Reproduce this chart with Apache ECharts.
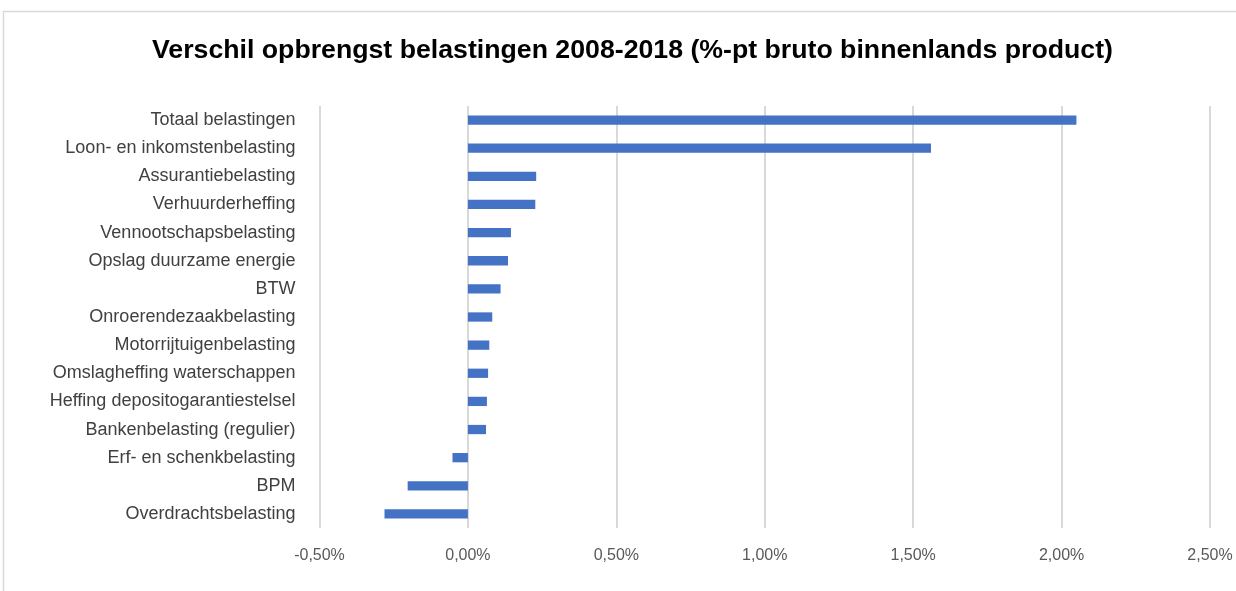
<!DOCTYPE html>
<html>
<head>
<meta charset="utf-8">
<script src="https://cdn.jsdelivr.net/npm/echarts@6/dist/echarts.min.js"></script>
<style>
html,body{margin:0;padding:0;background:#fff;}
#chart{width:1236px;height:591px;}
</style>
</head>
<body>
<div id="chart"></div>
<script>
const titleText = "Verschil opbrengst belastingen 2008-2018 (%-pt bruto binnenlands product)";
const categories = [
  "Totaal belastingen",
  "Loon- en inkomstenbelasting",
  "Assurantiebelasting",
  "Verhuurderheffing",
  "Vennootschapsbelasting",
  "Opslag duurzame energie",
  "BTW",
  "Onroerendezaakbelasting",
  "Motorrijtuigenbelasting",
  "Omslagheffing waterschappen",
  "Heffing depositogarantiestelsel",
  "Bankenbelasting (regulier)",
  "Erf- en schenkbelasting",
  "BPM",
  "Overdrachtsbelasting"
];
// values in percentage points of GDP
const values = [2.05, 1.56, 0.23, 0.227, 0.145, 0.135, 0.11, 0.082, 0.072, 0.068, 0.064, 0.061, -0.052, -0.203, -0.281];
const axisMin = -0.5, axisMax = 2.5, axisStep = 0.5;

const chart = echarts.init(document.getElementById('chart'), null, {renderer:'canvas'});
chart.setOption({
  animation:false,
  backgroundColor:'#ffffff',
  graphic:[{
    type:'rect',
    shape:{x:3.5,y:11.5,width:2000,height:2000},
    style:{fill:'none',stroke:'#d9d9d9',lineWidth:1.5},
    silent:true
  }],
  title:{
    text:titleText,
    left:147,
    top:32,
    textStyle:{fontFamily:'"Liberation Sans",sans-serif',fontWeight:'bold',fontSize:26.7,color:'#000'}
  },
  grid:{left:319.5,right:26,top:106,bottom:63,containLabel:false},
  xAxis:{
    type:'value',
    min:axisMin,max:axisMax,interval:axisStep,
    axisLine:{show:false},
    axisTick:{show:false},
    splitLine:{show:true,lineStyle:{color:'#d9d9d9',width:2}},
    axisLabel:{
      margin:20,
      color:'#595959',
      fontFamily:'"Liberation Sans",sans-serif',
      fontSize:16,
      formatter:v=>v.toFixed(2).replace('.',',')+'%'
    }
  },
  yAxis:{
    type:'category',
    data:categories,
    inverse:true,
    axisLine:{show:false},
    axisTick:{show:false},
    axisLabel:{
      margin:24,
      color:'#404040',
      fontFamily:'"Liberation Sans",sans-serif',
      fontSize:18
    }
  },
  series:[{
    type:'bar',
    data:values,
    barWidth:'33%',
    itemStyle:{color:'#4472C4'}
  }]
});
</script>
</body>
</html>
